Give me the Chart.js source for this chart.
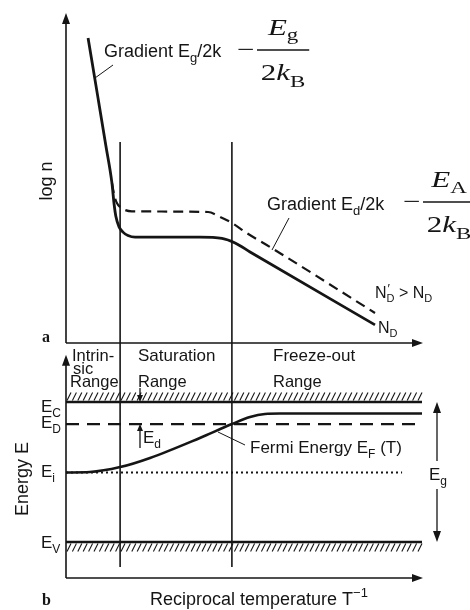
<!DOCTYPE html>
<html><head><meta charset="utf-8">
<script src="https://cdn.jsdelivr.net/npm/chart.js@4.4.1/dist/chart.umd.min.js"></script>
<style>
html,body{margin:0;padding:0;background:#fff;}
#wrap{position:relative;width:470px;height:610px;background:#fff;}
canvas{position:absolute;left:0;top:0;}
</style></head><body>
<div id="wrap"><canvas id="topc" width="470" height="610"></canvas><canvas id="botc" width="470" height="610"></canvas></div>
<script>
// ---------- data (arbitrary units: reciprocal temperature 0..100) ----------
// panel a: log n
const solidX  = [6.2, 9.0, 11.2, 12.9, 13.5, 14.0, 14.9, 16.0, 17.4, 19.4, 37.6, 43.8, 47.5, 51.7, 86.8];
const solidY  = [92.4, 74.2, 59.8, 48.5, 42.2, 38.4, 35.2, 33.6, 32.6, 32.1, 32.1, 31.7, 30.3, 27.6, 5.5];
const dashedX = [12.9, 13.6, 14.3, 15.2, 16.6, 18.5, 39.9, 43.3, 46.6, 50.8, 57.3, 86.8];
const dashedY = [48.5, 44.6, 42.4, 41.2, 40.3, 39.9, 39.7, 38.2, 36.4, 33.3, 29.1, 9.1];
const rangeBoundaries = [15.2, 46.6];
const boundaryTopLogN = 60.9;
// panel b: energy
const levelNames  = ['C', 'D', 'i', 'V'];
const levelValues = [74.9, 65.5, 44.9, 15.3];
const intrinsicLevelEnd = 94.4;
const fermiX = [0, 6.7, 15.2, 23.6, 37.6, 46.6, 51.7, 55.9, 60.1, 100];
const fermiY = [44.9, 45.1, 47.2, 51.1, 59.6, 65.5, 68.5, 69.8, 70.0, 70.0];
const boundaryBottomE = 4.7;

// ---------- helpers ----------
const ink = '#151515';
const SANS = '"Liberation Sans", Arial, sans-serif';
const SERIF = '"Liberation Serif", "Times New Roman", serif';
const pts = (xs, ys) => xs.map((x, i) => ({x, y: ys[i]}));

function line(ctx, x1, y1, x2, y2, w) {
  ctx.save(); ctx.lineWidth = w || 1; ctx.strokeStyle = ink;
  ctx.beginPath(); ctx.moveTo(x1, y1); ctx.lineTo(x2, y2); ctx.stroke(); ctx.restore();
}
function arrowHead(ctx, x, y, dir, len, hw) {
  len = len || 10; hw = hw || 4;
  ctx.save(); ctx.fillStyle = ink; ctx.beginPath();
  if (dir === 'up')    { ctx.moveTo(x, y); ctx.lineTo(x - hw, y + len); ctx.lineTo(x + hw, y + len); }
  if (dir === 'down')  { ctx.moveTo(x, y); ctx.lineTo(x - hw, y - len); ctx.lineTo(x + hw, y - len); }
  if (dir === 'right') { ctx.moveTo(x, y); ctx.lineTo(x - len, y - hw); ctx.lineTo(x - len, y + hw); }
  ctx.closePath(); ctx.fill(); ctx.restore();
}
function rich(ctx, x, y, parts, base, fam) {
  let cx = x;
  ctx.save(); ctx.fillStyle = ink; ctx.textBaseline = 'alphabetic'; ctx.textAlign = 'left';
  for (const [t, m] of parts) {
    let size = base, dy = 0, st = '';
    if (m === 'sub') { size = Math.round(base * 0.7); dy = base * 0.28; }
    if (m === 'sup') { size = Math.round(base * 0.7); dy = -base * 0.42; }
    if (m === 'i') st = 'italic ';
    if (m === 'b') st = 'bold ';
    ctx.font = st + size + 'px ' + fam;
    ctx.fillText(t, cx, y + dy);
    cx += ctx.measureText(t).width;
  }
  ctx.restore();
  return cx;
}
function formula(ctx, mx, my, sub) {
  ctx.save(); ctx.fillStyle = ink; ctx.strokeStyle = ink;
  ctx.translate(mx, my); ctx.scale(1.35, 1);
  ctx.font = '23px ' + SERIF; ctx.textBaseline = 'alphabetic';
  ctx.fillText('\u2212', 0, 7);
  const b0 = 14.8, b1 = 53.5, c = (b0 + b1) / 2;
  ctx.lineWidth = 1.3; ctx.beginPath(); ctx.moveTo(b0, 0); ctx.lineTo(b1, 0); ctx.stroke();
  ctx.font = 'italic 23px ' + SERIF; const wE = ctx.measureText('E').width;
  ctx.font = '17px ' + SERIF; const wS = ctx.measureText(sub).width;
  let nx = c - (wE + wS) / 2;
  ctx.font = 'italic 23px ' + SERIF; ctx.fillText('E', nx, -15);
  ctx.font = '17px ' + SERIF; ctx.fillText(sub, nx + wE, sub === 'g' ? -10 : -9);
  ctx.font = '23px ' + SERIF; const w2 = ctx.measureText('2').width;
  ctx.font = 'italic 23px ' + SERIF; const wk = ctx.measureText('k').width;
  ctx.font = '17px ' + SERIF; const wB = ctx.measureText('B').width;
  let dx = c - (w2 + wk + wB) / 2;
  ctx.font = '23px ' + SERIF; ctx.fillText('2', dx, 30);
  ctx.font = 'italic 23px ' + SERIF; ctx.fillText('k', dx + w2, 30);
  ctx.font = '17px ' + SERIF; ctx.fillText('B', dx + w2 + wk, 37);
  ctx.restore();
}
function rotText(ctx, txt, cx, cy, size) {
  ctx.save(); ctx.fillStyle = ink; ctx.font = size + 'px ' + SANS;
  ctx.translate(cx, cy); ctx.rotate(-Math.PI / 2);
  ctx.textAlign = 'center'; ctx.textBaseline = 'middle'; ctx.fillText(txt, 0, 0); ctx.restore();
}

// ---------- panel a ----------
const topDecor = {
  id: 'topDecor',
  afterDraw(chart) {
    const ctx = chart.ctx, xs = chart.scales.x, ys = chart.scales.y;
    const x0 = xs.left, y0 = ys.bottom;
    line(ctx, x0, y0, x0, ys.top + 8, 1.6); arrowHead(ctx, x0, ys.top, 'up', 11, 4);
    line(ctx, x0, y0, xs.right - 6, y0, 1.6); arrowHead(ctx, xs.right + 1, y0, 'right', 11, 4);
    rich(ctx, 104, 57, [['Gradient E', 'n'], ['g', 'sub'], ['/2k', 'n']], 18, SANS);
    line(ctx, 113, 65, 95, 78, 1);
    formula(ctx, 237, 50, 'g');
    rich(ctx, 267, 210, [['Gradient E', 'n'], ['d', 'sub'], ['/2k', 'n']], 18, SANS);
    line(ctx, 289, 218, 272, 250, 1);
    formula(ctx, 403, 202, 'A');
    let cx = rich(ctx, 375, 298, [['N', 'n']], 16, SANS);
    rich(ctx, cx + 1, 293, [['\u2032', 'n']], 13, SANS);
    rich(ctx, cx, 298, [['D', 'sub'], [' > N', 'n'], ['D', 'sub']], 16, SANS);
    rich(ctx, 378, 333, [['N', 'n'], ['D', 'sub']], 16, SANS);
    rotText(ctx, 'log n', 47, 181, 18);
    rich(ctx, 42, 342, [['a', 'b']], 16, SERIF);
  }
};

const lineDs = (data, w, dash) => ({
  data, showLine: true, borderColor: ink, borderWidth: w, borderDash: dash || [],
  pointRadius: 0, cubicInterpolationMode: 'monotone', clip: false, fill: false
});

new Chart(document.getElementById('topc'), {
  type: 'scatter',
  data: { datasets: [
    lineDs(pts(solidX, solidY), 2.8),
    lineDs(pts(dashedX, dashedY), 2.2, [10, 6]),
    ...rangeBoundaries.map(b => lineDs([{x: b, y: boundaryTopLogN}, {x: b, y: 0}], 1.6))
  ]},
  options: {
    responsive: false, animation: false, devicePixelRatio: 1,
    layout: { padding: { left: 66, right: 48, top: 13, bottom: 267 } },
    scales: {
      x: { type: 'linear', min: 0, max: 100, display: false },
      y: { type: 'linear', min: 0, max: 100, display: false }
    },
    plugins: { legend: { display: false }, tooltip: { enabled: false } }
  },
  plugins: [topDecor]
});

// ---------- panel b ----------
const botDecor = {
  id: 'botDecor',
  afterDraw(chart) {
    const ctx = chart.ctx, xs = chart.scales.x, ys = chart.scales.y;
    const x0 = xs.left, y0 = ys.bottom;
    const tipY = ys.getPixelForValue(95);
    line(ctx, x0, y0, x0, tipY + 8, 1.6); arrowHead(ctx, x0, tipY, 'up', 11, 4);
    line(ctx, x0, y0, xs.right - 6, y0, 1.6); arrowHead(ctx, xs.right + 1, y0, 'right', 11, 4);
    const yc = ys.getPixelForValue(levelValues[0]);
    const yv = ys.getPixelForValue(levelValues[3]);
    ctx.save(); ctx.strokeStyle = ink; ctx.lineWidth = 1.1;
    for (let x = x0 + 1; x < xs.right - 3; x += 5.4) {
      ctx.beginPath(); ctx.moveTo(x, yc - 1.5); ctx.lineTo(x + 4, yc - 9.5); ctx.stroke();
      ctx.beginPath(); ctx.moveTo(x, yv + 9.5); ctx.lineTo(x + 4, yv + 1.5); ctx.stroke();
    }
    ctx.restore();
    const f = 16.5;
    rich(ctx, 72, 361, [['Intrin-', 'n']], f, SANS);
    rich(ctx, 73, 374, [['sic', 'n']], f, SANS);
    rich(ctx, 70, 387, [['Range', 'n']], f, SANS);
    rich(ctx, 138, 361, [['Saturation', 'n']], 17, SANS);
    rich(ctx, 138, 387, [['Range', 'n']], f, SANS);
    rich(ctx, 273, 361, [['Freeze-out', 'n']], 17, SANS);
    rich(ctx, 273, 387, [['Range', 'n']], f, SANS);
    const lblY = [412, 428, 477, 548];
    levelNames.forEach((n, i) => rich(ctx, 41, lblY[i], [['E', 'n'], [n, 'sub']], 17, SANS));
    rotText(ctx, 'Energy E', 23, 479, 18);
    line(ctx, 140, 388, 140, 396, 1.3); arrowHead(ctx, 140, yc, 'down', 7, 3);
    const yd = ys.getPixelForValue(levelValues[1]);
    line(ctx, 140, 448, 140, yd + 6, 1.3); arrowHead(ctx, 140, yd, 'up', 7, 3);
    rich(ctx, 143, 443, [['E', 'n'], ['d', 'sub']], 17, SANS);
    line(ctx, 218, 432, 245, 445, 1);
    rich(ctx, 250, 453, [['Fermi Energy E', 'n'], ['F', 'sub'], [' (T)', 'n']], 17, SANS);
    line(ctx, 437, yc + 9, 437, 461, 1.3); arrowHead(ctx, 437, yc, 'up', 11, 4);
    line(ctx, 437, 489, 437, yv - 9, 1.3); arrowHead(ctx, 437, yv, 'down', 11, 4);
    rich(ctx, 429, 480, [['E', 'n'], ['g', 'sub']], 17, SANS);
    rich(ctx, 150, 605, [['Reciprocal temperature T', 'n'], ['\u22121', 'sup']], 18, SANS);
    rich(ctx, 42, 605, [['b', 'b']], 16, SERIF);
  }
};

const levelStyles = [[2.6, []], [2.2, [13, 8]], [2, [2, 3]], [2.6, []]];
new Chart(document.getElementById('botc'), {
  type: 'scatter',
  data: { datasets: [
    ...levelValues.map((v, i) => lineDs([{x: 0, y: v}, {x: i === 2 ? intrinsicLevelEnd : 100, y: v}], levelStyles[i][0], levelStyles[i][1])),
    lineDs(pts(fermiX, fermiY), 2.6),
    ...rangeBoundaries.map(b => lineDs([{x: b, y: 100}, {x: b, y: boundaryBottomE}], 1.6))
  ]},
  options: {
    responsive: false, animation: false, devicePixelRatio: 1,
    layout: { padding: { left: 66, right: 48, top: 343, bottom: 32 } },
    scales: {
      x: { type: 'linear', min: 0, max: 100, display: false },
      y: { type: 'linear', min: 0, max: 100, display: false }
    },
    plugins: { legend: { display: false }, tooltip: { enabled: false } }
  },
  plugins: [botDecor]
});
</script>
</body></html>
